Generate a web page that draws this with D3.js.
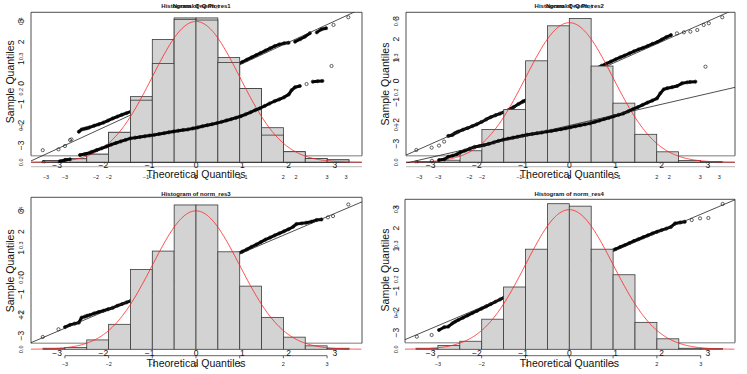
<!DOCTYPE html>
<html><head><meta charset="utf-8">
<script src="https://cdn.jsdelivr.net/npm/d3@7"></script>
<style>body{margin:0;background:#fff}svg{display:block}text{font-family:"Liberation Sans",Arial,Helvetica,sans-serif}</style>
</head><body><svg id="c" width="747" height="374"></svg>
<script>
// ---------------- data ----------------
const binEdges = [-3.5,-3,-2.5,-2,-1.5,-1,-0.5,0,0.5,1,1.5,2,2.5,3,3.5];
const hist1a = [0.005,0.010,0.023,0.085,0.186,0.348,0.409,0.409,0.297,0.209,0.098,0.030,0.011,0.007];
const hist1b = [0.005,0.010,0.023,0.085,0.176,0.280,0.405,0.403,0.283,0.209,0.077,0.030,0.011,0.007];
const hist2  = [0.002,0.006,0.033,0.094,0.151,0.290,0.390,0.411,0.275,0.169,0.080,0.030,0.005,0.002];
const hist3  = [0.003,0.005,0.027,0.072,0.230,0.283,0.416,0.416,0.281,0.182,0.092,0.035,0.010,0.003];
const hist4  = [0.003,0.011,0.023,0.086,0.178,0.286,0.416,0.409,0.286,0.213,0.077,0.030,0.003,0.002];

const qqTicks = [-3,-2,-1,0,1,2,3];
const densTicks = [0,0.1,0.2,0.3,0.4];
const histXTicks = [-3,-2,-1,0,1,2,3];
const titles = ["Histogram of norm_res1","Histogram of norm_res2","Histogram of norm_res3","Histogram of norm_res4"];
const qqTitle = "Normal Q-Q Plot";
const xLabel = "Theoretical Quantiles";
const yLabel = "Sample Quantiles";
const curveMean = 0, curveSd = 1;

// panel 1, upper Q-Q cloud
const qq1aX = [-3.31,-2.97,-2.83,-2.72,-2.69,-2.53,-2.47,-2.42,-2.38,-2.34,
  -2.3,-2.2,-2.1,-2.0,-1.9,-1.8,-1.7,-1.6,-1.5,-1.4,-1.3,-1.2,-1.1,-1.0,-0.9,-0.8,-0.7,-0.6,-0.5,-0.4,-0.3,-0.2,-0.1,0,
  0.1,0.2,0.3,0.4,0.5,0.6,0.7,0.8,0.9,1.0,1.1,1.2,1.3,1.4,1.5,1.6,1.7,1.8,1.9,2.0,
  2.14,2.25,2.35,2.46,2.61,2.71,2.81,2.97,3.29];
const qq1aY = [-3.23,-3.19,-3.03,-2.74,-2.71,-2.34,-2.23,-2.20,-2.18,-2.16,
  -2.13,-2.05,-1.98,-1.90,-1.80,-1.70,-1.61,-1.52,-1.44,-1.36,-1.27,-1.18,-1.08,-0.99,-0.90,-0.80,-0.71,-0.61,-0.52,-0.42,-0.32,-0.22,-0.11,-0.01,
  0.09,0.19,0.30,0.40,0.51,0.61,0.72,0.82,0.92,1.03,1.14,1.25,1.36,1.47,1.58,1.69,1.80,1.88,1.93,1.96,
  2.01,2.13,2.25,2.42,2.46,2.61,2.66,2.82,3.19];
const qqLine1a = [-0.08, 1.03];
// panel 1, lower Q-Q cloud
const qq1bX = [-3.01,-2.67,-2.56,-2.46,-2.25,-2.15,-2.04,
  -2.0,-1.9,-1.8,-1.7,-1.6,-1.5,-1.4,-1.3,-1.2,-1.1,-1.0,-0.9,-0.8,-0.7,-0.6,-0.5,-0.4,-0.3,-0.2,-0.1,0,
  0.1,0.2,0.3,0.4,0.5,0.6,0.7,0.8,0.9,1.0,1.1,1.2,1.3,1.4,1.5,1.6,1.7,1.8,1.9,2.0,2.1,
  2.16,2.23,2.33,2.47,2.60,2.70,2.80,2.99];
const qq1bY = [-2.45,-2.38,-2.29,-2.24,-1.93,-1.86,-1.76,
  -1.70,-1.57,-1.45,-1.32,-1.19,-1.07,-0.96,-0.85,-0.74,-0.69,-0.64,-0.59,-0.54,-0.49,-0.43,-0.37,-0.31,-0.25,-0.19,-0.14,-0.10,
  -0.03,0.04,0.12,0.20,0.27,0.35,0.44,0.54,0.63,0.73,0.84,0.98,1.12,1.27,1.41,1.58,1.75,1.91,2.04,2.19,2.40,
  2.71,2.91,3.00,3.14,3.31,3.34,3.36,4.43];

// panel 2, upper Q-Q cloud
const qq2aX = [-3.31,-2.98,-2.82,-2.71,-2.62,-2.53,-2.48,-2.44,
  -2.4,-2.3,-2.2,-2.1,-2.0,-1.9,-1.8,-1.7,-1.6,-1.5,-1.4,-1.3,-1.2,-1.1,-1.0,-0.9,-0.8,-0.7,-0.6,-0.5,-0.4,-0.3,-0.2,-0.1,0,
  0.1,0.2,0.3,0.4,0.5,0.6,0.7,0.8,0.9,1.0,1.1,1.2,1.3,1.4,1.5,1.6,1.7,1.8,1.9,2.0,2.1,2.2,
  2.33,2.48,2.62,2.77,2.91,3.02,3.31];
const qq2aY = [-3.30,-3.19,-3.09,-2.90,-2.63,-2.58,-2.50,-2.46,
  -2.42,-2.33,-2.25,-2.16,-2.07,-1.96,-1.84,-1.73,-1.64,-1.56,-1.47,-1.37,-1.24,-1.10,-0.97,-0.87,-0.77,-0.68,-0.58,-0.49,-0.39,-0.29,-0.19,-0.09,0.0,
  0.10,0.20,0.30,0.40,0.51,0.62,0.73,0.83,0.93,1.03,1.13,1.22,1.32,1.42,1.51,1.59,1.68,1.78,1.86,1.98,2.10,2.20,
  2.28,2.33,2.36,2.44,2.68,2.76,3.05];
const qqLine2a = [-0.08, 0.98];
// panel 2, lower Q-Q cloud
const qq2bX = [-3.01,-2.69,-2.54,-2.43,-2.35,-2.26,-2.17,
  -2.1,-2.0,-1.9,-1.8,-1.7,-1.6,-1.5,-1.4,-1.3,-1.2,-1.1,-1.0,-0.9,-0.8,-0.7,-0.6,-0.5,-0.4,-0.3,-0.2,-0.1,0,
  0.1,0.2,0.3,0.4,0.5,0.6,0.7,0.8,0.9,1.0,1.1,1.2,1.3,1.4,1.5,1.6,1.7,1.8,1.9,2.0,
  2.07,2.14,2.21,2.31,2.42,2.52,2.63,2.69,2.80,3.01];
const qq2bY = [-2.45,-2.34,-2.29,-2.24,-2.05,-1.98,-1.88,
  -1.74,-1.61,-1.48,-1.35,-1.29,-1.22,-1.13,-1.03,-0.92,-0.83,-0.76,-0.69,-0.62,-0.55,-0.48,-0.43,-0.37,-0.32,-0.26,-0.21,-0.15,-0.09,
  -0.02,0.05,0.12,0.19,0.26,0.33,0.43,0.53,0.63,0.73,0.84,0.94,1.04,1.19,1.34,1.49,1.65,1.81,1.96,2.12,
  2.48,2.76,2.84,2.91,3.00,3.19,3.26,3.29,3.31,4.38];
const qqLine2b = [0.04, 0.79];

// panel 3
const qq3X = [-3.31,-2.97,-2.83,-2.72,-2.62,-2.53,-2.47,-2.40,-2.35,
  -2.3,-2.2,-2.1,-2.0,-1.9,-1.8,-1.7,-1.6,-1.5,-1.4,-1.3,-1.2,-1.1,-1.0,-0.9,-0.8,-0.7,-0.6,-0.5,-0.4,-0.3,-0.2,-0.1,0,
  0.1,0.2,0.3,0.4,0.5,0.6,0.7,0.8,0.9,1.0,1.1,1.2,1.3,1.4,1.5,1.6,1.7,1.8,1.9,2.0,2.1,
  2.17,2.28,2.38,2.49,2.60,2.71,2.85,2.96,3.29];
const qq3Y = [-3.06,-2.69,-2.59,-2.48,-2.42,-2.37,-2.13,-2.08,-2.04,
  -2.01,-1.93,-1.86,-1.80,-1.73,-1.66,-1.56,-1.48,-1.40,-1.31,-1.22,-1.12,-1.02,-0.93,-0.84,-0.74,-0.65,-0.55,-0.46,-0.36,-0.27,-0.17,-0.08,0.02,
  0.11,0.21,0.31,0.41,0.51,0.61,0.72,0.82,0.93,1.04,1.15,1.27,1.38,1.50,1.62,1.72,1.82,1.92,2.02,2.12,2.24,
  2.37,2.40,2.43,2.48,2.56,2.59,2.69,2.75,3.31];
const qqLine3 = [0.04, 0.947];

// panel 4
const qq4X = [-3.30,-2.98,-2.82,-2.71,-2.62,-2.53,-2.47,-2.40,
  -2.3,-2.2,-2.1,-2.0,-1.9,-1.8,-1.7,-1.6,-1.5,-1.4,-1.3,-1.2,-1.1,-1.0,-0.9,-0.8,-0.7,-0.6,-0.5,-0.4,-0.3,-0.2,-0.1,0,
  0.1,0.2,0.3,0.4,0.5,0.6,0.7,0.8,0.9,1.0,1.1,1.2,1.3,1.4,1.5,1.6,1.7,1.8,1.9,2.0,
  2.10,2.20,2.29,2.40,2.50,2.65,2.83,3.01,3.32];
const qq4Y = [-3.19,-3.11,-2.87,-2.74,-2.71,-2.55,-2.47,-2.39,
  -2.28,-2.17,-2.06,-1.96,-1.85,-1.74,-1.63,-1.52,-1.41,-1.30,-1.20,-1.10,-1.01,-0.92,-0.83,-0.74,-0.65,-0.56,-0.47,-0.38,-0.29,-0.19,-0.10,0.00,
  0.10,0.19,0.29,0.38,0.48,0.58,0.68,0.79,0.90,1.00,1.10,1.19,1.29,1.39,1.48,1.57,1.66,1.75,1.83,1.91,
  1.98,2.06,2.23,2.27,2.31,2.39,2.47,2.49,3.16];
const qqLine4 = [0, 0.937];

// ---------------- layout ----------------
const panels = [
  {ox:0, oy:0, box:[31,362,12.3,155.7], qx0:196, qxs:46.3, qy0:83.3, qys:20.7, hx0:196, hxs:43.7, hb:162.3, hs:353,
   titleY:7.9, tqY:178.3, sqY:81.7, titles:[titles[0], qqTitle], hists:[hist1a, hist1b],
   A:{x:qq1aX, y:qq1aY, line:qqLine1a}, B:{x:qq1bX, y:qq1bY, line:null, x0:188, xs:48, y0:128, ys:14}, top:true},
  {ox:375, oy:0, box:[31,360,12.3,155.7], qx0:194.3, qxs:46.2, qy0:81, qys:20.9, hx0:194.3, hxs:43.7, hb:162.3, hs:350,
   titleY:7.9, tqY:178.3, sqY:84, titles:[titles[1], qqTitle], hists:[hist2],
   A:{x:qq2aX, y:qq2aY, line:qqLine2a}, B:{x:qq2bX, y:qq2bY, line:qqLine2b, x0:186, xs:48, y0:128, ys:14}, top:true},
  {ox:0, oy:190, box:[31,362,7.3,153.3], qx0:196, qxs:46.3, qy0:83.3, qys:20.8, hx0:196, hxs:43.7, hb:159.3, hs:347,
   titleY:5.5, tqY:176.8, sqY:80.8, titles:[titles[2]], hists:[hist3],
   A:{x:qq3X, y:qq3Y, line:qqLine3}, B:null, top:false},
  {ox:375, oy:190, box:[30,360,9.3,152.7], qx0:194.3, qxs:46.2, qy0:80, qys:20.9, hx0:194.3, hxs:43.8, hb:159.3, hs:350,
   titleY:5.5, tqY:176.8, sqY:80, titles:[titles[3]], hists:[hist4],
   A:{x:qq4X, y:qq4Y, line:qqLine4}, B:null, top:false}
];

const svg = d3.select("#c");
const fmtQ = v => (v < 0 ? "\u2212" + Math.abs(v) : String(v));
const fmtD = d3.format(".1f");

function lin(z, s, flip) {
  return d3.scaleLinear().domain([0, 1]).range(flip ? [z, z - s] : [z, z + s]);
}

function drawCloud(g, xs, ys, sx, sy, clip) {
  const data = xs.map((x, i) => ({x, y: ys[i]}));
  const cg = g.append("g").attr("clip-path", clip);
  // dense runs drawn as a thick band
  const runs = []; let cur = [data[0]];
  for (let i = 1; i < data.length; i++) {
    const d = Math.hypot(sx(data[i].x) - sx(data[i-1].x), sy(data[i].y) - sy(data[i-1].y));
    if (d < 6.2) cur.push(data[i]); else { runs.push(cur); cur = [data[i]]; }
  }
  runs.push(cur);
  const ln = d3.line().x(d => sx(d.x)).y(d => sy(d.y));
  runs.filter(r => r.length > 2).forEach(r =>
    cg.append("path").attr("d", ln(r)).attr("fill", "none").attr("stroke", "#000")
      .attr("stroke-width", 3).attr("stroke-linecap", "round").attr("stroke-linejoin", "round"));
  cg.selectAll(null).data(data).join("circle")
    .attr("cx", d => sx(d.x)).attr("cy", d => sy(d.y)).attr("r", 1.6)
    .attr("fill", "none").attr("stroke", "#111").attr("stroke-width", 0.65);
}

function drawQQLine(g, coef, sx, sy, bL, bR, clip) {
  const x0 = sx.invert(bL), x1 = sx.invert(bR);
  g.append("line").attr("clip-path", clip)
    .attr("x1", sx(x0)).attr("y1", sy(coef[0] + coef[1] * x0))
    .attr("x2", sx(x1)).attr("y2", sy(coef[0] + coef[1] * x1))
    .attr("stroke", "#222").attr("stroke-width", 0.8);
}

panels.forEach((p, pi) => {
  const g = svg.append("g").attr("transform", `translate(${p.ox},${p.oy})`);
  const [bL, bR, bT, bB] = p.box;
  const qx = lin(p.qx0, p.qxs), qy = lin(p.qy0, p.qys, true);
  const hx = lin(p.hx0, p.hxs), hy = lin(p.hb, p.hs, true);
  const cid = "clip" + pi;
  g.append("clipPath").attr("id", cid).append("rect")
    .attr("x", bL).attr("y", bT).attr("width", bR - bL).attr("height", p.hb + 1 - bT);
  const clip = `url(#${cid})`;

  // ---- Q-Q plot frame ----
  g.append("line").attr("x1", bL).attr("x2", bR).attr("y1", bB).attr("y2", bB)
    .attr("stroke", "#a8a8a8").attr("stroke-width", 1.6);
  if (p.top) {
    g.append("line").attr("x1", bL).attr("x2", bR).attr("y1", p.hb + 4.4).attr("y2", p.hb + 4.4)
      .attr("stroke", "#c4c4c4").attr("stroke-width", 1.3);
  }
  g.append("path").attr("d", `M${bL},${bB}V${bT}H${bR}V${bB}`)
    .attr("fill", "none").attr("stroke", "#222").attr("stroke-width", 0.8);

  // Q-Q y labels
  qqTicks.forEach(v => {
    g.append("text").attr("transform", `translate(23.6,${qy(v)}) rotate(-90)`)
      .attr("text-anchor", "middle").attr("font-size", 8.5).attr("fill", "#111").text(fmtQ(v));
  });
  // Q-Q x labels
  qqTicks.forEach(v => {
    g.append("text").attr("x", qx(v)).attr("y", p.hb + (p.top ? 5.6 : 6.4))
      .attr("text-anchor", "middle").attr("font-size", 8.5).attr("fill", "#111").text(fmtQ(v));
  });
  // y axis title
  g.append("text").attr("transform", `translate(13.6,${p.sqY}) rotate(-90)`)
    .attr("text-anchor", "middle").attr("font-size", 10.5).attr("fill", "#111").text(yLabel);

  // cloud A and its reference line (behind the histogram)
  drawCloud(g, p.A.x, p.A.y, qx, qy, clip);
  drawQQLine(g, p.A.line, qx, qy, bL, bR, clip);

  // ---- histogram(s) ----
  p.hists.forEach(h => {
    g.append("g").selectAll("rect").data(h).join("rect")
      .attr("x", (d, i) => hx(binEdges[i]))
      .attr("width", (d, i) => hx(binEdges[i + 1]) - hx(binEdges[i]))
      .attr("y", d => hy(d))
      .attr("height", d => hy(0) - hy(d))
      .attr("fill", "#d3d3d3").attr("stroke", "#3a3a3a").attr("stroke-width", 0.8);
  });
  if (p.top) {
    g.append("line").attr("x1", bL).attr("x2", bR).attr("y1", p.hb).attr("y2", p.hb)
      .attr("stroke", "#333").attr("stroke-width", 0.8);
  }
  // normal density curve
  const cx0 = hx.invert(bL), cx1 = hx.invert(bR);
  const cxs = d3.range(cx0, cx1 + 0.001, 0.02);
  const dn = x => Math.exp(-0.5 * ((x - curveMean) / curveSd) ** 2) / (curveSd * Math.sqrt(2 * Math.PI));
  g.append("path").attr("d", d3.line().x(x => hx(x)).y(x => hy(dn(x)))(cxs))
    .attr("fill", "none").attr("stroke", "#ff2020").attr("stroke-width", 0.8);

  // histogram density labels (left)
  densTicks.forEach(v => {
    g.append("text").attr("transform", `translate(23,${hy(v)}) rotate(-90)`)
      .attr("text-anchor", "middle").attr("font-size", 5.5).attr("fill", "#222").text(fmtD(v));
  });
  // histogram x axis
  if (!p.top) {
    const ay = p.hb + 6.4;
    g.append("line").attr("x1", hx(-3)).attr("x2", hx(3)).attr("y1", ay).attr("y2", ay)
      .attr("stroke", "#222").attr("stroke-width", 0.7);
    histXTicks.forEach(v => {
      g.append("line").attr("x1", hx(v)).attr("x2", hx(v)).attr("y1", ay).attr("y2", ay + 2.6)
        .attr("stroke", "#222").attr("stroke-width", 0.7);
      g.append("text").attr("x", hx(v)).attr("y", p.hb + 16.6).attr("text-anchor", "middle")
        .attr("font-size", 5.5).attr("fill", "#222").text(fmtQ(v));
    });
  } else {
    const lx2 = lin(p.hx0, 50);
    histXTicks.forEach(v => {
      g.append("text").attr("x", hx(v)).attr("y", p.hb + 16.6).attr("text-anchor", "middle")
        .attr("font-size", 5.5).attr("fill", "#222").text(fmtQ(v));
      g.append("text").attr("x", lx2(v)).attr("y", p.hb + 16.6).attr("text-anchor", "middle")
        .attr("font-size", 5.5).attr("fill", "#222").text(fmtQ(v));
    });
  }

  // cloud B (on top of the histogram)
  if (p.B) {
    const bx = lin(p.B.x0, p.B.xs), by = lin(p.B.y0, p.B.ys, true);
    drawCloud(g, p.B.x, p.B.y, bx, by, clip);
    if (p.B.line) drawQQLine(g, p.B.line, bx, by, bL, bR, clip);
  }

  // x axis title
  g.append("text").attr("x", p.qx0).attr("y", p.tqY).attr("text-anchor", "middle")
    .attr("font-size", 10.5).attr("fill", "#111").text(xLabel);
  // titles (overlapping)
  p.titles.forEach(t => {
    g.append("text").attr("x", p.qx0).attr("y", p.titleY).attr("text-anchor", "middle")
      .attr("font-size", 6).attr("font-weight", "bold").attr("fill", "#111").text(t);
  });
});
</script>
</body></html>
